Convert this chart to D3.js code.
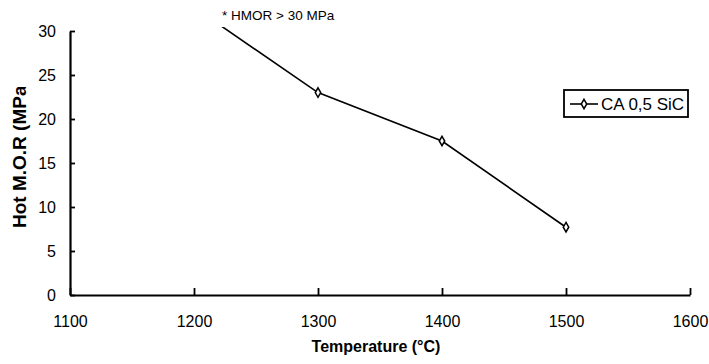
<!DOCTYPE html>
<html>
<head>
<meta charset="utf-8">
<script src="https://cdn.jsdelivr.net/npm/d3@7"></script>
<style>
  body { margin: 0; background: #fff; }
  text { font-family: "Liberation Sans", Arial, sans-serif; fill: #000; }
</style>
</head>
<body>
<div id="chart"></div>
<script>
// data
const temperatures = [1200, 1300, 1400, 1500];
const hmor = [32.7, 23, 17.5, 7.7];
const xTicks = [1100, 1200, 1300, 1400, 1500, 1600];
const yTicks = [0, 5, 10, 15, 20, 25, 30];
const seriesName = 'CA 0,5 SiC';

const W = 709, H = 364;
const margin = { top: 31, right: 19, bottom: 69, left: 70 };
const width = W - margin.left - margin.right;
const height = H - margin.top - margin.bottom;

const svg = d3.select('#chart').append('svg')
  .attr('width', W).attr('height', H);

const x = d3.scaleLinear().domain([1100, 1600]).range([margin.left, margin.left + width]);
const y = d3.scaleLinear().domain([0, 30]).range([margin.top + height, margin.top]);

// plot area goes a bit above the 30 tick, line is cut there
svg.append('clipPath').attr('id', 'plotClip')
  .append('rect')
  .attr('x', margin.left).attr('y', 27)
  .attr('width', width).attr('height', margin.top + height - 27);

const pts = temperatures.map((t, i) => ({ t, v: hmor[i] }));

const line = d3.line().x(d => x(d.t)).y(d => y(d.v));
const plot = svg.append('g').attr('clip-path', 'url(#plotClip)');

plot.append('path')
  .datum(pts)
  .attr('d', line)
  .attr('fill', 'none')
  .attr('stroke', '#000')
  .attr('stroke-width', 1.6);

const diamond = d3.symbol().type(d3.symbolDiamond).size(26);
plot.selectAll('.mk')
  .data(pts)
  .enter().append('path')
  .attr('class', 'mk')
  .attr('transform', d => `translate(${x(d.t)},${y(d.v)})`)
  .attr('d', diamond)
  .attr('fill', '#fff')
  .attr('stroke', '#000')
  .attr('stroke-width', 1.5);

// axes, ticks pointing inward
const xAxis = svg.append('g')
  .attr('transform', `translate(0,${margin.top + height})`)
  .call(d3.axisBottom(x).tickValues(xTicks).tickSizeInner(-7).tickSizeOuter(0).tickPadding(0).tickFormat(d3.format('d')));
xAxis.select('.domain').attr('stroke-width', 2.2);
xAxis.selectAll('.tick line').attr('stroke-width', 1.8);
xAxis.selectAll('.tick text').attr('y', 32).attr('dy', 0).attr('font-size', 16)
  .style('font-family', '"Liberation Sans", Arial, sans-serif');

const yAxis = svg.append('g')
  .attr('transform', `translate(${margin.left},0)`)
  .call(d3.axisLeft(y).tickValues(yTicks).tickSizeInner(-5).tickSizeOuter(0).tickPadding(0));
yAxis.select('.domain').attr('stroke-width', 2.2);
yAxis.selectAll('.tick line').attr('stroke-width', 1.8);
yAxis.selectAll('.tick text').attr('x', -14).attr('font-size', 16)
  .style('font-family', '"Liberation Sans", Arial, sans-serif');

// axis titles
svg.append('text')
  .attr('x', 376).attr('y', 352)
  .attr('text-anchor', 'middle')
  .attr('font-size', 16).attr('font-weight', 'bold')
  .text('Temperature (°C)');

// the y title box is too short in the original, its end is cut off
svg.append('clipPath').attr('id', 'ytClip')
  .append('rect').attr('x', 0).attr('y', 87).attr('width', 40).attr('height', 200);

svg.append('g').attr('clip-path', 'url(#ytClip)')
  .append('text')
  .attr('transform', 'translate(26,228) rotate(-90)')
  .attr('font-size', 19).attr('font-weight', 'bold')
  .text('Hot M.O.R (MPa)');

// note above the plot
svg.append('text')
  .attr('x', 222).attr('y', 20)
  .attr('font-size', 13.5)
  .text('* HMOR > 30 MPa');

// legend
const lg = svg.append('g').attr('transform', 'translate(564,90)');
lg.append('rect')
  .attr('width', 124).attr('height', 27)
  .attr('fill', '#fff').attr('stroke', '#000').attr('stroke-width', 1.8);
lg.append('line')
  .attr('x1', 6).attr('x2', 34).attr('y1', 14).attr('y2', 14)
  .attr('stroke', '#000').attr('stroke-width', 1.6);
lg.append('path')
  .attr('transform', 'translate(20,14)')
  .attr('d', diamond)
  .attr('fill', '#fff').attr('stroke', '#000').attr('stroke-width', 1.5);
lg.append('text')
  .attr('x', 37).attr('y', 20)
  .attr('font-size', 17)
  .text(seriesName);
</script>
</body>
</html>
